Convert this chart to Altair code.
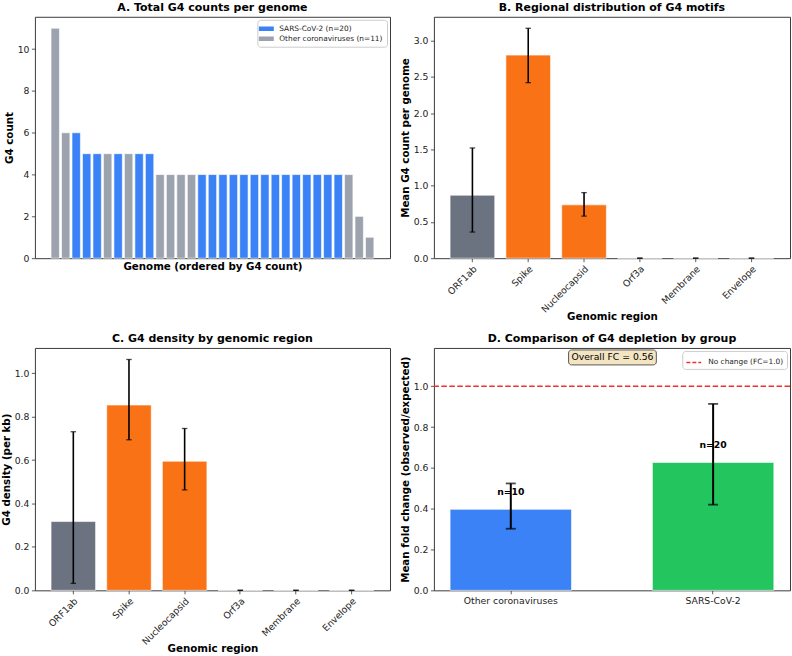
import altair as alt
import pandas as pd

# ---------------- data ----------------
# Panel A: total G4 counts per genome (ordered)
genome_counts = [11, 6, 6, 5, 5, 5, 5, 5, 5, 5,
                 4, 4, 4, 4, 4, 4, 4, 4, 4, 4,
                 4, 4, 4, 4, 4, 4, 4, 4, 4, 2, 1]
genome_groups = ["O", "O", "S", "S", "S", "O", "S", "O", "S", "S",
                 "O", "O", "O", "O", "S", "S", "S", "S", "S", "S",
                 "S", "S", "S", "S", "S", "S", "S", "S", "O", "O", "O"]
group_names = {"S": "SARS-CoV-2 (n=20)", "O": "Other coronaviruses (n=11)"}
group_colors = ["#3b82f6", "#9ca3af"]

# Panels B & C: regions
regions = ["ORF1ab", "Spike", "Nucleocapsid", "Orf3a", "Membrane", "Envelope"]
region_colors = ["#6b7280", "#f97316", "#f97316", "#f97316", "#f97316", "#f97316"]
count_mean = [0.868, 2.80, 0.735, 0, 0, 0]
count_lo = [0.36, 2.42, 0.58, 0, 0, 0]
count_hi = [1.52, 3.17, 0.904, 0, 0, 0]
dens_mean = [0.317, 0.854, 0.595, 0, 0, 0]
dens_lo = [0.032, 0.694, 0.463, 0, 0, 0]
dens_hi = [0.731, 1.064, 0.746, 0, 0, 0]

# Panel D: groups
groups_d = ["Other coronaviruses", "SARS-CoV-2"]
colors_d = ["#3b82f6", "#22c55e"]
fc_mean = [0.397, 0.627]
fc_lo = [0.302, 0.420]
fc_hi = [0.524, 0.914]
n_labels = ["n=10", "n=20"]
overall_fc_label = "Overall FC = 0.56"
ref_label = ["No change (FC=1.0)"]
ref_value = [1.0]

ticks_a = [0, 2, 4, 6, 8, 10]
ticks_b = [0.0, 0.5, 1.0, 1.5, 2.0, 2.5, 3.0]
ticks_c = [0.0, 0.2, 0.4, 0.6, 0.8, 1.0]
ticks_d = [0.0, 0.2, 0.4, 0.6, 0.8, 1.0]

FONT = "DejaVu Sans"
W1, W2 = 356, 357
H1, H2 = 242, 243
TICK_FS = 9.3
AXTITLE_FS = 10.3
LEGEND_FS = 7.4

# ---------------- panel A ----------------
df_a = pd.DataFrame({
    "idx": list(range(len(genome_counts))),
    "count": genome_counts,
    "group": [group_names[g] for g in genome_groups],
})
n_a = len(genome_counts)
span_a = (n_a - 1) + 0.8
xdom_a = [-0.4 - 0.05 * span_a, n_a - 1 + 0.4 + 0.05 * span_a]
ymax_a = max(genome_counts) * 1.05
legend_path = "M-1.5,-0.45H1.5V0.45H-1.5Z"
panel_a = alt.Chart(df_a, title="A. Total G4 counts per genome").transform_calculate(
    x0="datum.idx - 0.4", x1="datum.idx + 0.4"
).mark_bar(stroke="white", strokeWidth=0.6).encode(
    x=alt.X("x0:Q", scale=alt.Scale(domain=xdom_a, nice=False, zero=False),
            axis=alt.Axis(labels=False, ticks=False, title="Genome (ordered by G4 count)", titlePadding=3)),
    x2="x1:Q",
    y=alt.Y("count:Q", scale=alt.Scale(domain=[0, ymax_a], nice=False),
            axis=alt.Axis(values=ticks_a, format="d", title="G4 count")),
    y2=alt.datum(0),
    color=alt.Color("group:N",
                    scale=alt.Scale(domain=[group_names["S"], group_names["O"]], range=group_colors),
                    legend=alt.Legend(title=None, orient="top-right", offset=3, padding=4,
                                      fillColor="white", strokeColor="#cccccc", cornerRadius=3,
                                      labelFontSize=LEGEND_FS, labelFont=FONT, labelColor="#222",
                                      symbolType=legend_path, symbolSize=100, symbolOpacity=1,
                                      symbolStrokeWidth=0, labelOffset=8, rowPadding=1)),
).properties(width=W1, height=H1)


def region_panel(mean, lo, hi, title, ytitle, ticks, w, h):
    df = pd.DataFrame({"region": regions, "mean": mean, "lo": lo, "hi": hi, "col": region_colors})
    ymax = max(hi) * 1.05
    xenc = alt.X("region:N", sort=regions,
                 scale=alt.Scale(paddingInner=0.2, paddingOuter=0.29),
                 axis=alt.Axis(labelAngle=-45, title="Genomic region", titlePadding=-3))
    base = alt.Chart(df)
    bars = base.mark_bar(stroke="white", strokeWidth=0.6).encode(
        x=xenc,
        y=alt.Y("mean:Q", scale=alt.Scale(domain=[0, ymax], nice=False),
                axis=alt.Axis(values=ticks, format=".1f", title=ytitle)),
        fill=alt.Fill("col:N", scale=None),
    )
    rule = base.mark_rule(color="black", strokeWidth=1.6).encode(
        x=alt.X("region:N", sort=regions), y="lo:Q", y2="hi:Q")
    cap_lo = base.mark_tick(color="black", thickness=1.3, size=5.5).encode(
        x=alt.X("region:N", sort=regions), y="lo:Q")
    cap_hi = base.mark_tick(color="black", thickness=1.3, size=5.5).encode(
        x=alt.X("region:N", sort=regions), y="hi:Q")
    return alt.layer(bars, rule, cap_lo, cap_hi, title=title).properties(width=w, height=h)


panel_b = region_panel(count_mean, count_lo, count_hi, "B. Regional distribution of G4 motifs",
                       "Mean G4 count per genome", ticks_b, W2, H1)
panel_c = region_panel(dens_mean, dens_lo, dens_hi, "C. G4 density by genomic region",
                       "G4 density (per kb)", ticks_c, W1, H2)

# ---------------- panel D ----------------
df_d = pd.DataFrame({"grp": groups_d, "mean": fc_mean, "lo": fc_lo, "hi": fc_hi,
                     "col": colors_d, "n": n_labels})
df_d["ny"] = df_d["mean"] + 0.06
ymax_d = max(fc_hi) * 1.3
xd = alt.X("grp:N", sort=groups_d, scale=alt.Scale(paddingInner=0.4, paddingOuter=0.08),
           axis=alt.Axis(labelAngle=0, title=None))
base_d = alt.Chart(df_d)
bars_d = base_d.mark_bar(stroke="white", strokeWidth=0.6).encode(
    x=xd,
    y=alt.Y("mean:Q", scale=alt.Scale(domain=[0, ymax_d], nice=False),
            axis=alt.Axis(values=ticks_d, format=".1f", title="Mean fold change (observed/expected)")),
    fill=alt.Fill("col:N", scale=None),
)
rule_d = base_d.mark_rule(color="black", strokeWidth=2).encode(
    x=alt.X("grp:N", sort=groups_d), y="lo:Q", y2="hi:Q")
caplo_d = base_d.mark_tick(color="black", thickness=1.8, size=10).encode(
    x=alt.X("grp:N", sort=groups_d), y="lo:Q")
caphi_d = base_d.mark_tick(color="black", thickness=1.8, size=10).encode(
    x=alt.X("grp:N", sort=groups_d), y="hi:Q")
ntext = base_d.mark_text(font=FONT, fontSize=TICK_FS, fontWeight="bold", baseline="bottom",
                         align="center", color="black").encode(
    x=alt.X("grp:N", sort=groups_d), y="ny:Q", text="n:N")
df_ref = pd.DataFrame({"lbl": ref_label, "v": ref_value})
refline = alt.Chart(df_ref).mark_rule(strokeDash=[5.5, 2.5], strokeWidth=1.5).encode(
    y="v:Q",
    stroke=alt.Stroke("lbl:N", scale=alt.Scale(domain=ref_label, range=["#ee3030"]),
                      legend=alt.Legend(title=None, orient="top-right", offset=3, padding=3,
                                        fillColor="white", strokeColor="#cccccc", cornerRadius=3,
                                        labelFontSize=LEGEND_FS, labelFont=FONT, labelColor="#222",
                                        symbolType="stroke", symbolSize=220, symbolStrokeWidth=1.5,
                                        symbolDash=[4, 2], labelOffset=6)),
)
df_box = pd.DataFrame({"t": [overall_fc_label]})
fc_box = alt.Chart(df_box).mark_rect(fill="#f3e4c2", stroke="#333", strokeWidth=0.8,
                                     cornerRadius=3).encode(
    x=alt.value(135), x2=alt.value(223), y=alt.value(2), y2=alt.value(17))
fc_text = alt.Chart(df_box).mark_text(font=FONT, fontSize=TICK_FS, color="black",
                                      baseline="middle", align="center").encode(
    x=alt.value(179), y=alt.value(9.5), text="t:N")

panel_d = alt.layer(bars_d, rule_d, caplo_d, caphi_d, ntext, refline, fc_box, fc_text,
                    title="D. Comparison of G4 depletion by group").properties(width=W2, height=H2)

chart = alt.concat(panel_a, panel_b, panel_c, panel_d, columns=2,
                   spacing={"row": 90, "column": 44}, bounds="flush").resolve_scale(
    x="independent", y="independent", color="independent", fill="independent", stroke="independent"
).properties(padding={"left": 0, "top": 0, "right": 0, "bottom": 0}).configure_view(
    stroke="#3a3a3a", strokeWidth=1
).configure_axis(
    labelFont=FONT, labelFontSize=TICK_FS, labelColor="#222", titleFont=FONT, titleFontSize=AXTITLE_FS,
    titleFontWeight="bold", titleColor="black", tickColor="#333", tickSize=3.5, tickWidth=0.8,
    domain=False, grid=False, labelPadding=2.5, titlePadding=3
).configure_title(
    font=FONT, fontSize=11, fontWeight="bold", color="black", offset=4, anchor="middle"
)

chart.save("out.html", embed_options={"renderer": "svg", "actions": False})
